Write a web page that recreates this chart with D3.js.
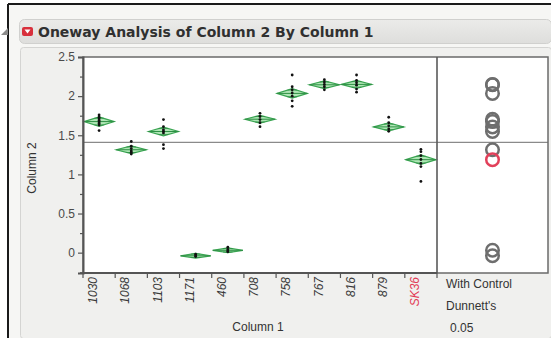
<!DOCTYPE html>
<html>
<head>
<meta charset="utf-8">
<script src="https://cdn.jsdelivr.net/npm/d3@7"></script>
<style>
  html, body { margin: 0; padding: 0; background: #ffffff; }
  svg { display: block; font-family: "Liberation Sans", Arial, sans-serif; }
</style>
</head>
<body>
<svg id="chart" width="551" height="338"></svg>
<script>
// Groups of Column 1 (the control group is SK36)
const categories = ["1030", "1068", "1103", "1171", "460", "708", "758", "767", "816", "879", "SK36"];
const controlGroup = "SK36";

// Group means of Column 2
const groupMeans = [1.675, 1.315, 1.548, -0.04, 0.03, 1.705, 2.035, 2.145, 2.15, 1.607, 1.188];

// Half-height of each 95% means diamond
const ciHalf = [0.06, 0.05, 0.055, 0.03, 0.03, 0.05, 0.06, 0.05, 0.05, 0.05, 0.06];

// Individual observations per group
const obs1030 = [1.76, 1.73, 1.71, 1.69, 1.67, 1.65, 1.63, 1.56];
const obs1068 = [1.42, 1.36, 1.33, 1.30, 1.28, 1.26];
const obs1103 = [1.70, 1.61, 1.57, 1.55, 1.53, 1.38, 1.33];
const obs1171 = [-0.02, -0.04, -0.05];
const obs460  = [0.07, 0.04, 0.02, 0.01];
const obs708  = [1.78, 1.74, 1.70, 1.66, 1.61];
const obs758  = [2.27, 2.12, 2.08, 2.04, 2.00, 1.94, 1.87];
const obs767  = [2.21, 2.18, 2.15, 2.12, 2.08];
const obs816  = [2.27, 2.20, 2.17, 2.14, 2.09, 2.05];
const obs879  = [1.73, 1.66, 1.62, 1.58, 1.55];
const obsSK36 = [1.32, 1.29, 1.24, 1.19, 1.14, 1.10, 0.91];
const observations = [obs1030, obs1068, obs1103, obs1171, obs460, obs708, obs758, obs767, obs816, obs879, obsSK36];

// Grand mean and comparison-circle radius (Column 2 units)
const grandMean = 1.41;
const circleRadius = 0.08;

// Axis ticks
const yMajorTicks = [0, 0.5, 1, 1.5, 2, 2.5];
const yMinorTicks = [-0.25, 0.25, 0.75, 1.25, 1.75, 2.25];
const yTickLabels = ["0", "0.5", "1", "1.5", "2", "2.5"];

const title = "Oneway Analysis of Column 2 By Column 1";
const xTitle = "Column 1";
const yTitle = "Column 2";
const compareLabels = ["With Control", "Dunnett's", "0.05"];

// ---------------------------------------------------------------
const svg = d3.select("#chart");
const W = 551, H = 338;
const plot = { left: 83, right: 437, top: 57, bottom: 273 };
const cmp = { left: 437, right: 548 };

const x = d3.scaleBand().domain(categories).range([plot.left, plot.right]).padding(0);
const y = d3.scaleLinear().domain([-0.26, 2.5]).range([plot.bottom, plot.top]);
const bw = x.bandwidth();

// Report frame and background
svg.append("rect").attr("x", 0).attr("y", 0).attr("width", W).attr("height", H).attr("fill", "#ffffff");
svg.append("rect").attr("x", 8).attr("y", 4).attr("width", W - 8).attr("height", H - 4).attr("fill", "#f6f6f4");
svg.append("rect").attr("x", 20.5).attr("y", 47.5).attr("width", W - 20).attr("height", H - 47)
  .attr("fill", "#f0f0ee").attr("stroke", "#d4d4d2").attr("rx", 3);
svg.append("line").attr("x1", 8).attr("x2", W).attr("y1", 4).attr("y2", 4).attr("stroke", "#1a1a1a").attr("stroke-width", 2);
svg.append("line").attr("x1", 8).attr("x2", 8).attr("y1", 4).attr("y2", H).attr("stroke", "#1a1a1a").attr("stroke-width", 2);

// Title bar
const grad = svg.append("defs").append("linearGradient").attr("id", "barGrad").attr("x1", 0).attr("x2", 0).attr("y1", 0).attr("y2", 1);
grad.append("stop").attr("offset", "0%").attr("stop-color", "#ebebe9");
grad.append("stop").attr("offset", "100%").attr("stop-color", "#dededc");
svg.append("rect").attr("x", 19.5).attr("y", 19.5).attr("width", W - 19).attr("height", 24)
  .attr("rx", 5).attr("fill", "url(#barGrad)").attr("stroke", "#d0d0ce");
// disclosure triangle
svg.append("path").attr("d", "M1,35 L8,35 L8,28 Z").attr("fill", "#8a8a8a");
// red hot-spot button
svg.append("rect").attr("x", 22).attr("y", 27).attr("width", 11).attr("height", 9).attr("rx", 2).attr("fill", "#d8303c");
svg.append("path").attr("d", "M24.5,29.5 L30.5,29.5 L27.5,33.5 Z").attr("fill", "#ffffff");
svg.append("text").attr("x", 38).attr("y", 37).attr("font-size", 14).attr("font-weight", "bold")
  .attr("font-family", "DejaVu Sans, Verdana, sans-serif")
  .attr("fill", "#303030").text(title);

// Plot panels
svg.append("rect").attr("x", plot.left).attr("y", plot.top).attr("width", cmp.right - plot.left)
  .attr("height", plot.bottom - plot.top).attr("fill", "#ffffff");

// Grand mean line across both panels
svg.append("line").attr("x1", plot.left).attr("x2", cmp.right)
  .attr("y1", y(grandMean)).attr("y2", y(grandMean)).attr("stroke", "#8a8a8a").attr("stroke-width", 1.2);

// Means diamonds
const groups = categories.map((c, i) => ({ cat: c, mean: groupMeans[i], ci: ciHalf[i], obs: observations[i] }));
const g = svg.append("g");
groups.forEach(d => {
  const cx = x(d.cat) + bw / 2, l = x(d.cat) + 1, r = x(d.cat) + bw - 1;
  const top = y(d.mean + d.ci), bot = y(d.mean - d.ci), my = y(d.mean);
  g.append("path")
    .attr("d", `M${l},${my} L${cx},${top} L${r},${my} L${cx},${bot} Z`)
    .attr("fill", "#a6e3ad").attr("fill-opacity", 0.9)
    .attr("stroke", "#3aa552").attr("stroke-width", 1.2);
  g.append("line").attr("x1", l).attr("x2", r).attr("y1", my).attr("y2", my)
    .attr("stroke", "#2e8f45").attr("stroke-width", 1);
  // overlap marks
  const off = d.ci / Math.SQRT2, frac = 1 - 1 / Math.SQRT2;
  [d.mean + off, d.mean - off].forEach(v => {
    g.append("line").attr("x1", cx - (bw / 2) * frac).attr("x2", cx + (bw / 2) * frac)
      .attr("y1", y(v)).attr("y2", y(v)).attr("stroke", "#2e8f45").attr("stroke-width", 0.8);
  });
  // observations
  g.selectAll(null).data(d.obs).enter().append("circle")
    .attr("cx", cx).attr("cy", v => y(v)).attr("r", 1.4).attr("fill", "#111111");
});

// Comparison circles (Dunnett's with control)
const cmpX = (cmp.left + cmp.right) / 2;
const pxRadius = y(0) - y(circleRadius);
svg.append("g").selectAll("circle").data(groups).enter().append("circle")
  .attr("cx", cmpX).attr("cy", d => y(d.mean)).attr("r", pxRadius)
  .attr("fill", "none")
  .attr("stroke", d => d.cat === controlGroup ? "#e2405a" : "#6e6e6e")
  .attr("stroke-width", 2.5);

// Panel frames
svg.append("rect").attr("x", plot.left).attr("y", plot.top).attr("width", cmp.right - plot.left)
  .attr("height", plot.bottom - plot.top).attr("fill", "none").attr("stroke", "#6a6a6a").attr("stroke-width", 1.5);
svg.append("line").attr("x1", cmp.left).attr("x2", cmp.left).attr("y1", plot.top).attr("y2", plot.bottom)
  .attr("stroke", "#5a5a5a").attr("stroke-width", 1.6);

// Y axis
const yAxis = d3.axisLeft(y).tickValues(yMajorTicks).tickSize(5).tickPadding(3)
  .tickFormat((d, i) => yTickLabels[i]);
const ya = svg.append("g").attr("transform", `translate(${plot.left},0)`).call(yAxis);
ya.select(".domain").attr("stroke", "#555").attr("stroke-width", 2);
ya.selectAll(".tick line").attr("stroke", "#555").attr("stroke-width", 1.2);
ya.selectAll(".tick text").attr("font-size", 12).attr("fill", "#4a4a4a").attr("font-family", "Liberation Sans, Arial, sans-serif");
const yMinor = d3.axisLeft(y).tickValues(yMinorTicks).tickSize(3).tickFormat("");
const ym = svg.append("g").attr("transform", `translate(${plot.left},0)`).call(yMinor);
ym.select(".domain").remove();
ym.selectAll(".tick line").attr("stroke", "#555").attr("stroke-width", 1.2);

// X axis: separator ticks between groups, rotated labels
const xa = svg.append("g").attr("transform", `translate(0,${plot.bottom})`);
xa.append("line").attr("x1", plot.left).attr("x2", plot.right).attr("y1", 0).attr("y2", 0)
  .attr("stroke", "#555").attr("stroke-width", 2);
const bounds = categories.map(c => x(c)).concat([plot.right]);
xa.selectAll("line.sep").data(bounds).enter().append("line").attr("class", "sep")
  .attr("x1", d => d).attr("x2", d => d).attr("y1", 0).attr("y2", 5)
  .attr("stroke", "#555").attr("stroke-width", 1.2);
xa.selectAll("text").data(categories).enter().append("text")
  .attr("transform", c => `translate(${x(c) + bw / 2 - 6},4) rotate(-90)`)
  .attr("text-anchor", "end").attr("dy", "0.35em")
  .attr("font-size", 12).attr("font-style", "italic")
  .attr("fill", c => c === controlGroup ? "#e23a55" : "#3a3a3a")
  .text(c => c);

// Axis titles
svg.append("text").attr("x", 258).attr("y", 331).attr("text-anchor", "middle")
  .attr("font-size", 12).attr("fill", "#333").text(xTitle);
svg.append("text").attr("transform", `translate(36,168) rotate(-90)`).attr("text-anchor", "middle")
  .attr("font-size", 12).attr("fill", "#333").text(yTitle);

// Comparison circle labels
svg.selectAll("text.cmp").data(compareLabels).enter().append("text").attr("class", "cmp")
  .attr("x", (d, i) => i === 2 ? 450 : 446).attr("y", (d, i) => 288 + i * 22)
  .attr("font-size", 12).attr("fill", "#333").text(d => d);
</script>
</body>
</html>
